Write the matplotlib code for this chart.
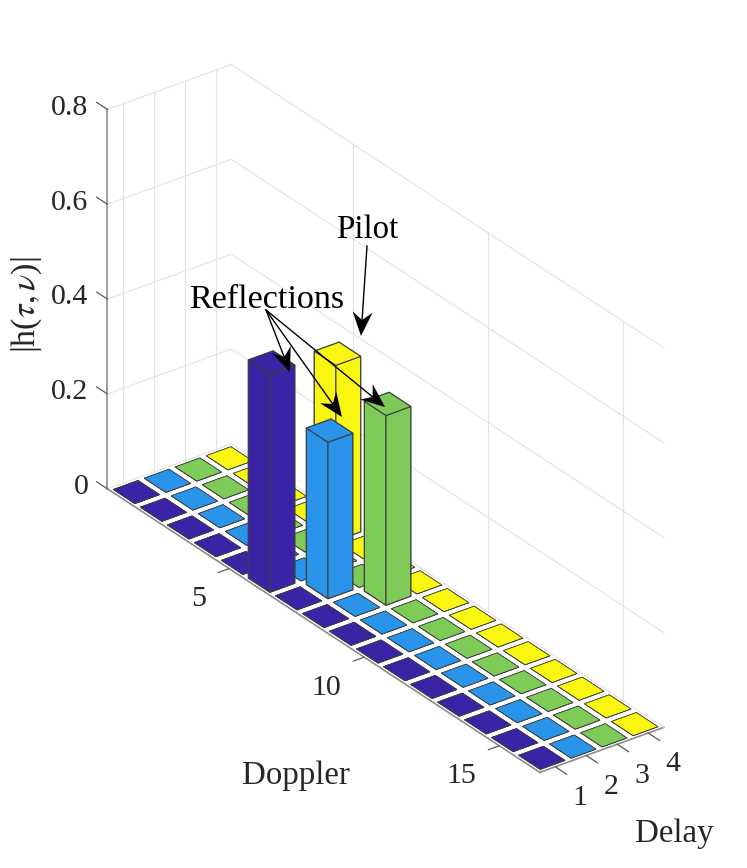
import matplotlib
matplotlib.use("Agg")
import matplotlib.pyplot as plt
from matplotlib.lines import Line2D
from matplotlib.patches import Polygon
from mpl_toolkits.mplot3d import proj3d
import numpy as np

plt.rcParams['font.family'] = ['Liberation Serif', 'DejaVu Sans']
plt.rcParams['mathtext.fontset'] = 'stix'

# data
doppler = list(range(1, 17))
delay = [1, 2, 3, 4]
h_delay1 = [0, 0, 0, 0, 0, 0.46, 0, 0, 0, 0, 0, 0, 0, 0, 0, 0]
h_delay2 = [0, 0, 0, 0, 0, 0, 0.33, 0, 0, 0, 0, 0, 0, 0, 0, 0]
h_delay3 = [0, 0, 0, 0, 0, 0, 0, 0.40, 0, 0, 0, 0, 0, 0, 0, 0]
h_delay4 = [0, 0, 0, 0, 0.37, 0, 0, 0, 0, 0, 0, 0, 0, 0, 0, 0]
heights = [h_delay1, h_delay2, h_delay3, h_delay4]
colors = ['#3b23a6', '#2994ea', '#7ecb57', '#f9f611']

doppler_ticks = [5, 10, 15]
z_ticks = [0, 0.2, 0.4, 0.6, 0.8]
z_labels = ['0', '0.2', '0.4', '0.6', '0.8']

W, H = 747, 868
fig = plt.figure(figsize=(W / 100, H / 100), dpi=100)
ax = fig.add_axes([2 / W, 66 / H, 747 / W, 747 / H], projection='3d', proj_type='ortho')
ax.computed_zorder = False
ax.view_init(elev=29.2, azim=-36.65)
ax.set_box_aspect((725, 154.6, 435), zoom=1.116)

grid_c = '#e2e2e2'
for z in z_ticks:
    ax.plot([0.5, 0.5, 16.5], [0.5, 4.5, 4.5], [z, z, z], color=grid_c, lw=0.8, zorder=1)
for k in delay:
    ax.plot([0.5, 0.5], [k, k], [0, 0.8], color=grid_c, lw=0.8, zorder=1)
for d in doppler_ticks:
    ax.plot([d, d], [4.5, 4.5], [0, 0.8], color=grid_c, lw=0.8, zorder=1)

# back to front so the bars hide each other properly
cells = [(d, k) for d in doppler for k in delay]
cells.sort(key=lambda c: c[0] - c[1])
for n, (d, k) in enumerate(cells):
    h = heights[k - 1][d - 1]
    ax.bar3d(d - 0.4, k - 0.4, 0, 0.8, 0.8, h, color=colors[k - 1], shade=False,
             edgecolor='#3f3f3f', linewidth=0.8 if h > 0 else 0.5, zorder=10 + n)

ax.set_xlim(0.5, 16.5, view_margin=0)
ax.set_ylim(0.5, 4.5, view_margin=0)
ax.set_zlim(0, 0.8, view_margin=0)
ax.grid(False)

# native ticks sit in the wrong direction for this view, so only the axis lines are kept
ax.set_xticks([])
ax.set_yticks([])
ax.set_zticks([])
for axis in (ax.xaxis, ax.yaxis, ax.zaxis):
    axis.set_pane_color((1, 1, 1, 1))
    axis.pane.set_edgecolor('none')
    axis.line.set_color('#8c8c8c')
    axis.line.set_linewidth(1.2)
ax.zaxis.set_ticks_position('lower')

tick_c = '#5a5a5a'
label_c = '#262626'


def tick_label(x, y, z, s, ha):
    # project to the 2D view so the text has a real place on the figure
    px2, py2, _ = proj3d.proj_transform(x, y, z, ax.get_proj())
    ax.text2D(px2, py2, s, transform=ax.transData, fontsize=21.5, color=label_c,
              ha=ha, va='center', zorder=150)


for d in doppler_ticks:
    ax.plot([d, d], [0.5, 0.15], [0, 0], color=tick_c, lw=0.9, zorder=5)
    tick_label(d + 0.8, 0.5 - 1.44, 0, str(d), 'right')
for k in delay:
    ax.plot([16.5, 16.92], [k, k], [0, 0], color=tick_c, lw=0.9, zorder=5)
    tick_label(16.5 + 1.47, k - 0.48, 0, str(k), 'center')
for z, s in zip(z_ticks, z_labels):
    ax.plot([0.5, 0.1], [0.5, 0.5], [z, z], color=tick_c, lw=0.9, zorder=5)
    tick_label(0.5 - 0.31, 0.5 - 0.34, z, s, 'right')


def arrow(start, tip):
    # thin shaft with a notched head, given in picture pixels
    start, tip = np.array(start, float), np.array(tip, float)
    u = (tip - start) / np.linalg.norm(tip - start)
    n = np.array([-u[1], u[0]])
    pts = [tip, tip - 24 * u + 10 * n, tip - 16 * u, tip - 24 * u - 10 * n]
    to_fig = lambda p: (p[0] / W, 1 - p[1] / H)
    a, b = to_fig(start), to_fig(tip - 16 * u)
    fig.add_artist(Line2D([a[0], b[0]], [a[1], b[1]], color='black', lw=1.0, zorder=200))
    fig.add_artist(Polygon([to_fig(p) for p in pts], closed=True, fc='black', ec='none', zorder=200))


fig.text(367 / W, 1 - 230 / H, 'Pilot', fontsize=23.7, ha='center', va='center')
fig.text(267 / W, 1 - 300 / H, 'Reflections', fontsize=24.6, ha='center', va='center')
arrow((367, 246), (361, 336))
for tip in [(290, 372), (342, 417), (385, 407)]:
    arrow((266, 310), tip)

fig.text(296 / W, 1 - 776 / H, 'Doppler', fontsize=23.7, color=label_c, ha='center', va='center')
fig.text(674 / W, 1 - 834 / H, 'Delay', fontsize=23.7, color=label_c, ha='center', va='center')
fig.text(27 / W, 1 - 305 / H, r'|h($\tau,\nu$)|', fontsize=24.6, color=label_c, rotation=90,
         ha='center', va='center')

fig.savefig('out.png', dpi=100)
